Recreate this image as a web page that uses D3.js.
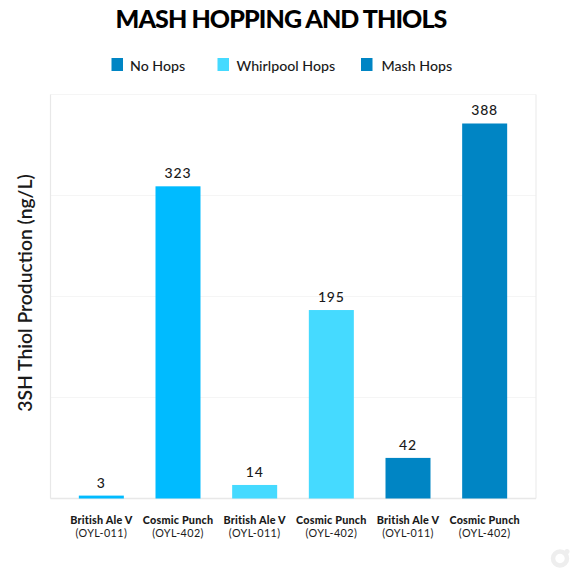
<!DOCTYPE html>
<html>
<head>
<meta charset="utf-8">
<script src="https://cdn.jsdelivr.net/npm/d3@7"></script>
<style>
html,body{margin:0;padding:0;background:#fff;}
text{font-family:Lato,sans-serif;fill:#1a1a1a;}
</style>
</head>
<body>
<script>
// mash hopping chart
var strains = ['British Ale V','Cosmic Punch','British Ale V','Cosmic Punch','British Ale V','Cosmic Punch'],
    codes = ['(OYL-011)','(OYL-402)','(OYL-011)','(OYL-402)','(OYL-011)','(OYL-402)'],
    values = [3,323,14,195,42,388],
    treatments = ['No Hops','No Hops','Whirlpool Hops','Whirlpool Hops','Mash Hops','Mash Hops'],
    legendNames = ['No Hops','Whirlpool Hops','Mash Hops'],
    legendColors = ['#0085c4','#45daff','#0085c4'],
    barColors = {'No Hops':'#00bbff','Whirlpool Hops':'#45daff','Mash Hops':'#0085c4'},
    gridValues = [104.5,209,313.5,418],
    yMax = 418;

var width = 575, height = 573,
    plotLeft = 50.5, plotRight = 536, plotTop = 94.5, plotBottom = 498.5;

var svg = d3.select('body').append('svg')
    .attr('width',width).attr('height',height)
    .style('display','block');

var x = d3.scaleBand()
    .domain(d3.range(values.length))
    .range([63,523])
    .paddingInner(0.413)
    .paddingOuter(0.2065);

var y = d3.scaleLinear().domain([0,yMax]).range([plotBottom,plotTop]);

// gridlines
svg.append('g').selectAll('line')
    .data(gridValues)
    .enter().append('line')
    .attr('x1',plotLeft).attr('x2',plotRight)
    .attr('y1',function(d){return y(d);})
    .attr('y2',function(d){return y(d);})
    .attr('stroke','#f5f5f5').attr('stroke-width',1);

// frame
svg.append('line').attr('x1',plotLeft).attr('x2',plotLeft).attr('y1',plotTop).attr('y2',plotBottom)
    .attr('stroke','#e8e8e8').attr('stroke-width',1.2);
svg.append('line').attr('x1',plotRight).attr('x2',plotRight).attr('y1',plotTop).attr('y2',plotBottom)
    .attr('stroke','#ededed').attr('stroke-width',1.2);
svg.append('line').attr('x1',plotLeft).attr('x2',plotRight).attr('y1',plotBottom).attr('y2',plotBottom)
    .attr('stroke','#e8e8e8').attr('stroke-width',1.5);

// bars
svg.append('g').selectAll('rect')
    .data(values)
    .enter().append('rect')
    .attr('x',function(d,i){return x(i);})
    .attr('y',function(d){return y(d);})
    .attr('width',x.bandwidth())
    .attr('height',function(d){return y(0)-y(d);})
    .attr('fill',function(d,i){return barColors[treatments[i]];});

// value labels
svg.append('g').selectAll('text')
    .data(values)
    .enter().append('text')
    .attr('x',function(d,i){return x(i)+x.bandwidth()/2;})
    .attr('y',function(d){return y(d)-8;})
    .attr('text-anchor','middle')
    .attr('font-size',14)
    .attr('font-weight',500)
    .attr('letter-spacing',0.8)
    .text(function(d){return d;});

// x axis, two line labels
var axis = svg.append('g')
    .attr('transform','translate(0,'+plotBottom+')')
    .call(d3.axisBottom(x).tickSize(0).tickFormat(''));
axis.select('.domain').remove();
axis.selectAll('.tick text').each(function(d,i){
    var t = d3.select(this).attr('y',null).attr('dy',null);
    t.append('tspan').attr('x',0).attr('y',25.5)
        .attr('font-size',10.8).attr('font-weight',900).attr('letter-spacing',0.2).text(strains[i]);
    t.append('tspan').attr('x',0).attr('y',38.5)
        .attr('font-size',10.8).attr('font-weight',400).attr('letter-spacing',0.4).text(codes[i]);
});

// title
svg.append('text')
    .attr('x',281).attr('y',28)
    .attr('text-anchor','middle')
    .attr('font-size',25)
    .attr('font-weight',900)
    .attr('letter-spacing',-0.9)
    .style('fill','#000')
    .text('MASH HOPPING AND THIOLS');

// y title
svg.append('text')
    .attr('transform','translate(32,293) rotate(-90)')
    .attr('text-anchor','middle')
    .attr('font-size',19.3)
    .attr('font-weight',600)
    .text('3SH Thiol Production (ng/L)');

// legend
var legendX = d3.scaleOrdinal().domain(legendNames).range([111.5,217.5,361]);
var legendGap = d3.scaleOrdinal().domain(legendNames).range([18.5,19,20.5]);
var lg = svg.append('g').selectAll('g')
    .data(legendNames)
    .enter().append('g')
    .attr('transform',function(d){return 'translate('+legendX(d)+',58)';});
lg.append('rect')
    .attr('width',11.5).attr('height',13)
    .attr('fill',function(d,i){return legendColors[i];});
lg.append('text')
    .attr('x',function(d){return legendGap(d);})
    .attr('y',13)
    .attr('font-size',14.2)
    .attr('font-weight',500)
    .text(function(d){return d;});

// watermark ring
svg.append('circle').attr('cx',560).attr('cy',558.5).attr('r',7)
    .attr('fill','none').attr('stroke','#eeeeee').attr('stroke-width',4.5);
svg.append('circle').attr('cx',567).attr('cy',551.5).attr('r',2.5).attr('fill','#eeeeee');
</script>
</body>
</html>
